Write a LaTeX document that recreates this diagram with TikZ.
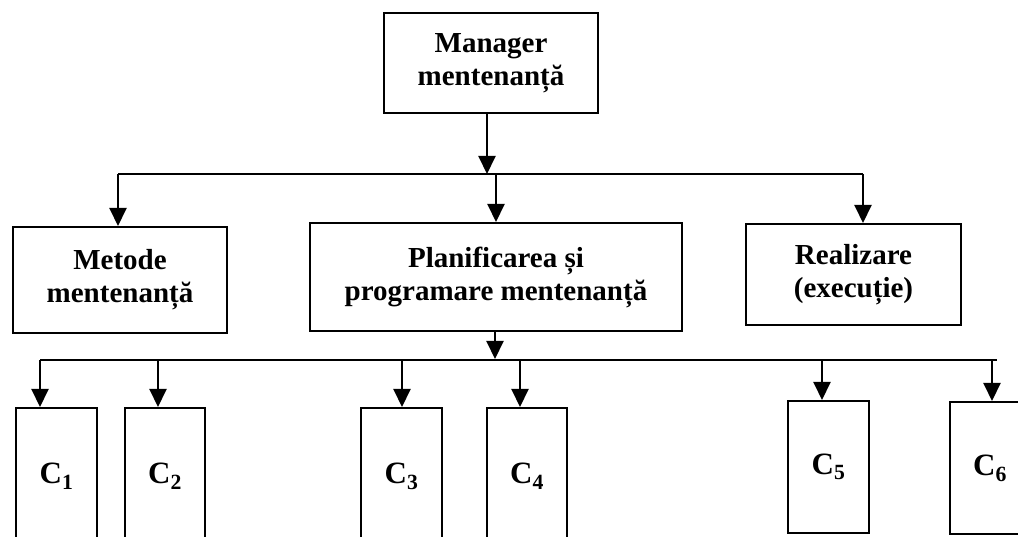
\documentclass[tikz,border=0pt]{standalone}
\usepackage{fontspec}
\setmainfont{Liberation Serif}
\usetikzlibrary{arrows.meta}
\begin{document}
\begin{tikzpicture}[x=1pt,y=-1pt,
  box/.style={draw, line width=2pt, align=center, inner sep=0pt,
    font=\bfseries\fontsize{29}{33}\selectfont},
  cbox/.style={box, minimum width=81pt, font=\bfseries\fontsize{31}{35}\selectfont},
  link/.style={line width=2pt},
  feed/.style={link, -{Triangle[width=17pt,length=18pt]}}]
\clip (0,0) rectangle (1018,537);

% top level
\node[box, minimum width=214pt, minimum height=100pt] (mgr) at (491,63) {Manager\\mentenanță};

% second level
\node[box, minimum width=214pt, minimum height=106pt] (met)  at (120,280)   {Metode\\mentenanță};
\node[box, minimum width=372pt, minimum height=108pt] (plan) at (496,277)   {Planificarea și\\programare mentenanță};
\node[box, minimum width=215pt, minimum height=101pt] (real) at (853.5,274.5) {Realizare\\(execuție)};

% components (the first four run past the lower edge)
\node[cbox, minimum height=136pt] (c1) at (56.5,476)  {C\textsubscript{1}};
\node[cbox, minimum width=80pt, minimum height=136pt] (c2) at (165,476)   {C\textsubscript{2}};
\node[cbox, minimum height=136pt] (c3) at (401.5,476) {C\textsubscript{3}};
\node[cbox, minimum width=80pt, minimum height=136pt] (c4) at (527,476)   {C\textsubscript{4}};
\node[cbox, minimum height=132pt] (c5) at (828.5,467) {C\textsubscript{5}};
\node[cbox, minimum width=80pt, minimum height=132pt] (c6) at (990,468)   {C\textsubscript{6}};

% upper distribution line
\coordinate (j0) at (487,174);
\coordinate (jl) at (118,174);
\coordinate (jp) at (496,174);
\coordinate (jr) at (863,174);
\draw[link] (jl) -- (jr);
\draw[feed] (mgr.south -| j0) -- (j0);
\draw[feed] (jl) -- (jl |- met.north);
\draw[feed] (jp) -- (jp |- plan.north);
\draw[feed] (jr) -- (jr |- real.north);

% lower distribution line
\coordinate (k0) at (495,359);
\coordinate (kl) at (40,360);
\coordinate (kr) at (997,360);
\draw[link] (kl) -- (kr);
\draw[feed] (plan.south -| k0) -- (k0);
\coordinate (b1) at (40,360);
\coordinate (b2) at (158,360);
\coordinate (b3) at (402,360);
\coordinate (b4) at (520,360);
\coordinate (b5) at (822,360);
\coordinate (b6) at (992,360);
\draw[feed] (b1) -- (b1 |- c1.north);
\draw[feed] (b2) -- (b2 |- c2.north);
\draw[feed] (b3) -- (b3 |- c3.north);
\draw[feed] (b4) -- (b4 |- c4.north);
\draw[feed] (b5) -- (b5 |- c5.north);
\draw[feed] (b6) -- (b6 |- c6.north);
\end{tikzpicture}
\end{document}
